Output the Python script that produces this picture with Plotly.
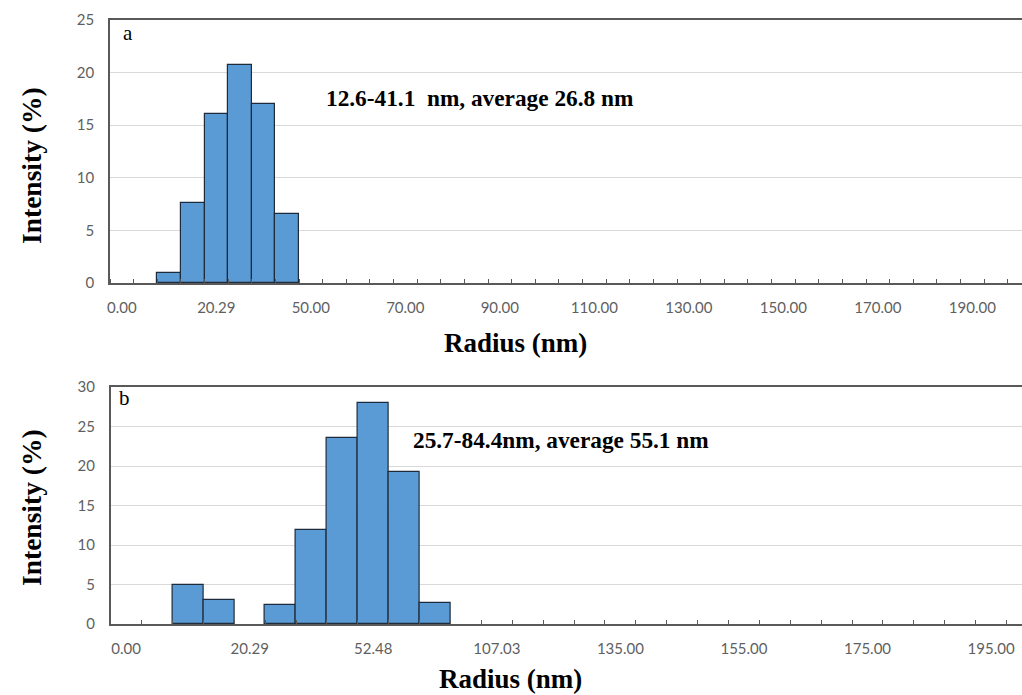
import plotly.graph_objects as go

# ---------------- data ----------------
# Panel a: intensity (%) per radius bin (39 bins, empty bins = None)
a_intensity = [None, None, 0.95, 7.65, 16.1, 20.7, 17.05, 6.6] + [None] * 31
a_tick_labels = ["0.00", "20.29", "50.00", "70.00", "90.00", "110.00",
                 "130.00", "150.00", "170.00", "190.00"]

# Panel b: intensity (%) per radius bin (30 bins)
b_intensity = [None, None, 4.95, 3.1, None, 2.4, 11.9, 23.5, 28.0, 19.3, 2.6] + [None] * 19
b_tick_labels = ["0.00", "20.29", "52.48", "107.03", "135.00", "155.00",
                 "175.00", "195.00"]

label_every = 4

W, H = 1022, 695
BAR = "#5B9BD5"
EDGE = "#1E2B3A"
AXC = "#595959"
GRID = "#D9D9D9"
TICKFONT = dict(family="Lato", size=15, color="#5f5f5f")
SERIF = "Liberation Serif"

fig = go.Figure()

a_x = list(range(len(a_intensity)))
b_x = list(range(len(b_intensity)))

fig.add_trace(go.Bar(x=a_x, y=a_intensity, width=1, xaxis="x", yaxis="y",
                     marker=dict(color=BAR, line=dict(color=EDGE, width=1.2)),
                     showlegend=False))
fig.add_trace(go.Bar(x=b_x, y=b_intensity, width=1, xaxis="x2", yaxis="y2",
                     marker=dict(color=BAR, line=dict(color=EDGE, width=1.2)),
                     showlegend=False))


def xaxis_cfg(n, labels, left_px, rng_end):
    return dict(
        domain=[left_px / W, 1.0],
        range=[-0.5, rng_end],
        showline=True, linecolor=AXC, linewidth=1.5, mirror=True,
        showgrid=False, zeroline=False, automargin=False,
        tickmode="array",
        tickvals=list(range(0, n, label_every))[:len(labels)],
        ticktext=labels,
        ticks="", tickfont=TICKFONT, ticklabelstandoff=10,
        minor=dict(tickmode="linear", tick0=0.5, dtick=1, ticks="inside",
                   ticklen=4, tickcolor=AXC, tickwidth=1, showgrid=False),
    )


def yaxis_cfg(top_px, bot_px, ymax):
    return dict(
        domain=[1 - bot_px / H, 1 - top_px / H],
        range=[0, ymax], dtick=5,
        showgrid=True, gridcolor=GRID, gridwidth=1,
        showline=True, linecolor=AXC, linewidth=1.5, automargin=False,
        zeroline=False, ticks="", tickfont=TICKFONT, ticklabelstandoff=11,
    )


fig.update_layout(
    width=W, height=H,
    margin=dict(l=0, r=0, t=0, b=0, pad=0, autoexpand=False),
    paper_bgcolor="white", plot_bgcolor="white",
    bargap=0,
    xaxis=dict(xaxis_cfg(len(a_intensity), a_tick_labels, 110, 38.1), anchor="y"),
    yaxis=dict(yaxis_cfg(20, 283, 25), anchor="x"),
    xaxis2=dict(xaxis_cfg(len(b_intensity), b_tick_labels, 110.7, 29.0), anchor="y2"),
    yaxis2=dict(yaxis_cfg(387, 624, 30), anchor="x2"),
)

anns = [
    # panel letters
    dict(text="a", x=128 / W, y=1 - 33 / H, font=dict(family=SERIF, size=21, color="black")),
    dict(text="b", x=124 / W, y=1 - 398 / H, font=dict(family=SERIF, size=21, color="black")),
    # range notes
    dict(text="<b>12.6-41.1  nm, average 26.8 nm</b>", x=480 / W, y=1 - 98 / H,
         font=dict(family=SERIF, size=23.3, color="black")),
    dict(text="<b>25.7-84.4nm, average 55.1 nm</b>", x=561 / W, y=1 - 440 / H,
         font=dict(family=SERIF, size=23.3, color="black")),
    # axis titles
    dict(text="<b>Radius (nm)</b>", x=515 / W, y=1 - 343 / H,
         font=dict(family=SERIF, size=27, color="black")),
    dict(text="<b>Radius (nm)</b>", x=510 / W, y=1 - 679 / H,
         font=dict(family=SERIF, size=27, color="black")),
    dict(text="<b>Intensity (%)</b>", x=31 / W, y=1 - 166 / H, textangle=-90,
         font=dict(family=SERIF, size=27.5, color="black")),
    dict(text="<b>Intensity (%)</b>", x=31 / W, y=1 - 508 / H, textangle=-90,
         font=dict(family=SERIF, size=27.5, color="black")),
]
for a in anns:
    a.update(xref="paper", yref="paper", showarrow=False, xanchor="center", yanchor="middle")
fig.update_layout(annotations=anns)

fig.write_html("out.html")
